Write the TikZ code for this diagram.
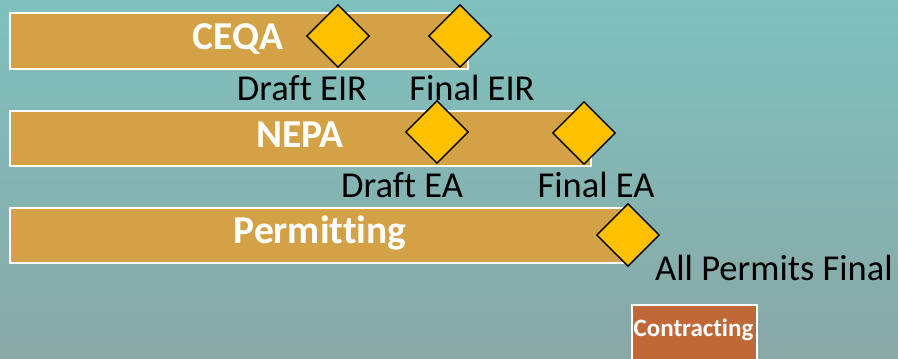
\documentclass[tikz,border=0pt]{standalone}
\usepackage{fontspec}
\setmainfont[Ligatures=NoCommon]{Carlito}
\usetikzlibrary{shapes.geometric}
\definecolor{bgtop}{RGB}{127,193,190}
\definecolor{bgbot}{RGB}{137,168,166}
\definecolor{barc}{RGB}{212,162,70}
\definecolor{diac}{RGB}{255,192,0}
\definecolor{contrc}{RGB}{192,104,56}
\begin{document}
\begin{tikzpicture}[x=1pt,y=-1pt,
  bar/.style={rectangle, fill=barc, draw=white, line width=1.6pt, inner sep=0pt, anchor=north west},
  bartitle/.style={text=white, font=\bfseries\fontsize{39.5}{39.5}\selectfont, anchor=base, inner sep=0pt},
  milestone/.style={diamond, fill=diac, draw=black, line width=1.4pt, inner sep=0pt, minimum width=63pt, minimum height=63pt},
  mlabel/.style={text=black, font=\fontsize{36.5}{36.5}\selectfont, anchor=base, inner sep=0pt},
  contractbox/.style={rectangle, fill=contrc, draw=white, line width=1.6pt, inner sep=0pt, anchor=north west},
  contracttext/.style={text=white, font=\bfseries\fontsize{25}{25}\selectfont, anchor=base, inner sep=0pt}]
\useasboundingbox (0,0) rectangle (898,359);
\shade[top color=bgtop, bottom color=bgbot] (0,0) rectangle (898,359);
% bars
\node[bar, minimum width=458pt, minimum height=56pt] (ceqa) at (9,12) {};
\node[bar, minimum width=581pt, minimum height=55pt] (nepa) at (9,110) {};
\node[bar, minimum width=621pt, minimum height=55pt] (permit) at (9,207) {};
\node[bartitle] (ceqat) at (238,49) {CEQA};
\node[bartitle] (nepat) at (300,147) {NEPA};
\node[bartitle] (permitt) at (320,243) {Permitting};
% milestones
\node[milestone] (d1) at (338,36) {};
\node[milestone] (d2) at (460,36) {};
\node[milestone] (d3) at (437,132) {};
\node[milestone] (d4) at (584,133) {};
\node[milestone] (d5) at (628,235) {};
% labels
\node[mlabel] (l1) at (302,100) {Draft EIR};
\node[mlabel] (l2) at (472,100) {Final EIR};
\node[mlabel] (l3) at (402,197) {Draft EA};
\node[mlabel] (l4) at (596,197) {Final EA};
\node[mlabel, anchor=base west] (l5) at (655,280) {All Permits Final};
% contracting
\node[contractbox, minimum width=125pt, minimum height=70pt] (contract) at (631,304) {};
\node[contracttext] (contractt) at (693.5,336) {Contracting};
\end{tikzpicture}
\end{document}
